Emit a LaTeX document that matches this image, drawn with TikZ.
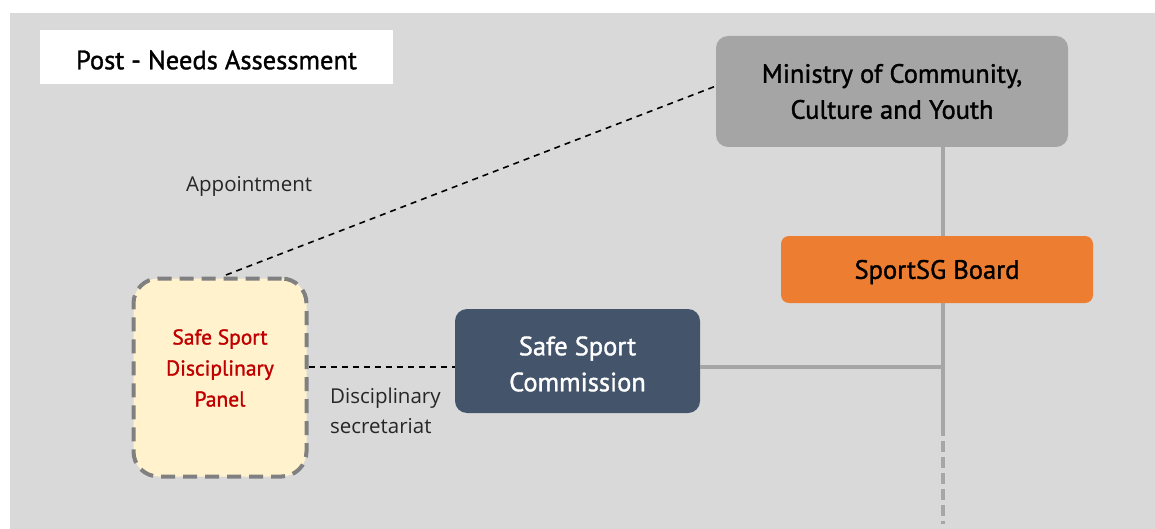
\documentclass[tikz,border=0pt]{standalone}
\usepackage{fontspec}
\setmainfont{PT Sans}[FakeBold=1.3]
\newfontfamily\dinfont{PT Sans}[FakeBold=1.3]
\newfontfamily\lblfont{Open Sans}
\definecolor{bgg}{HTML}{D9D9D9}
\definecolor{minig}{HTML}{A5A5A5}
\definecolor{sorange}{HTML}{ED7D31}
\definecolor{sblue}{HTML}{44546A}
\definecolor{pyellow}{HTML}{FFF2CC}
\definecolor{pred}{HTML}{C00000}
\definecolor{lineg}{HTML}{A6A6A6}
\begin{document}
\begin{tikzpicture}[x=1pt,y=-1pt,
  orgbox/.style={rounded corners=12pt, align=center, inner sep=0pt, font=\dinfont\fontsize{26.5}{36}\selectfont},
  conn/.style={draw=lineg, line width=3.5pt},
  dashconn/.style={draw=black, line width=1.6pt, dash pattern=on 6pt off 5pt},
  lbl/.style={font=\lblfont\fontsize{20.5}{30}\selectfont, align=left, text=black!85}]
\useasboundingbox (0,0) rectangle (1155,529);
\fill[white] (0,0) rectangle (1155,529);
\fill[bgg] (10,13) rectangle (1155,529);
\node[fill=white, minimum width=353pt, minimum height=54pt, inner sep=0pt] (title) at (216.5,57) {};
\node[font=\dinfont\fontsize{26.5}{30}\selectfont, inner sep=0pt] (titletxt) at (216.5,60) {Post - Needs Assessment};
\node[orgbox, fill=minig, text=black, minimum width=352pt, minimum height=111pt] (min) at (892,91.5) {Ministry of Community,\\Culture and Youth};
\node[orgbox, fill=sorange, text=black, minimum width=312pt, minimum height=67pt, rounded corners=8pt] (board) at (937,269.5) {};
\node[font=\dinfont\fontsize{26.5}{36}\selectfont, inner sep=0pt] (boardtxt) at (937,272) {SportSG Board};
\node[orgbox, fill=sblue, text=white, minimum width=245pt, minimum height=104pt] (comm) at (577.5,361) {};
\node[font=\dinfont\fontsize{26.5}{36}\selectfont, text=white, align=center, inner sep=0pt] (commtxt) at (577.5,364) {Safe Sport\\Commission};
\node[orgbox, fill=pyellow, minimum width=173pt, minimum height=198pt, rounded corners=25pt, draw=gray, line width=4pt, dash pattern=on 14pt off 8pt] (panel) at (220,377.5) {};
\node[font=\dinfont\fontsize{21.5}{31}\selectfont, text=pred, align=center, inner sep=0pt] (paneltxt) at (220,368) {Safe Sport\\Disciplinary\\Panel};
\coordinate (j) at (943,367);
\coordinate (dstart) at (943,425);
\coordinate (bottom) at (943,524);
\coordinate (pt) at (226,275);
\coordinate (mt) at (716,86);
\draw[conn] (943,147) -- (943,236);
\draw[conn] (943,303) -- (dstart);
\draw[conn] (comm.east |- j) -- (j);
\draw[conn, dash pattern=on 11pt off 5pt] (dstart) -- (bottom);
\draw[dashconn] (pt) -- (mt);
\draw[dashconn] (panel.east |- j) -- (comm.west |- j);
\node[lbl, anchor=base west, inner sep=0pt] (appt) at (186,192) {Appointment};
\node[lbl, anchor=base west, inner sep=0pt] (sec) at (330,433) {Disciplinary\\secretariat};
\end{tikzpicture}
\end{document}
